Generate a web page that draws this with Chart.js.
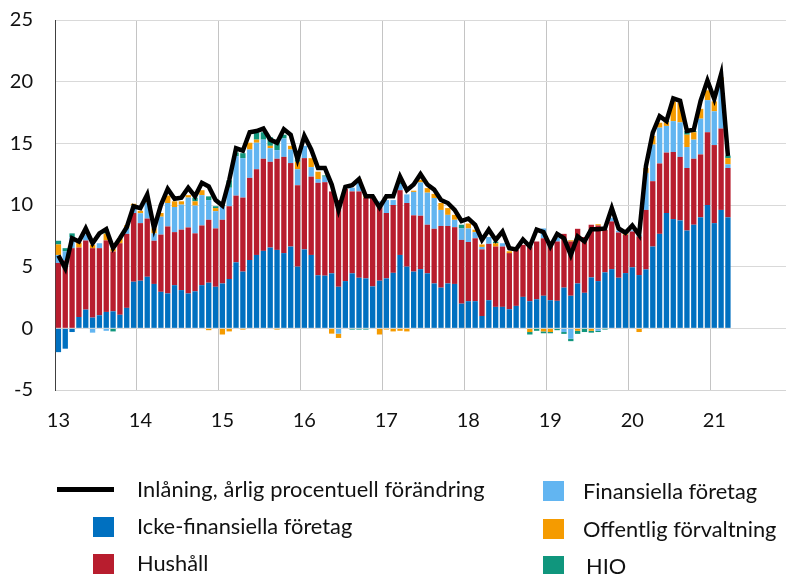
<!DOCTYPE html>
<html>
<head>
<meta charset="utf-8">
<script src="https://cdn.jsdelivr.net/npm/chart.js@4.4.1/dist/chart.umd.min.js"></script>
<style>
  body { margin: 0; background: #fff; }
  #wrap { position: relative; width: 786px; height: 574px; font-family: Lato, "Open Sans", sans-serif; color: #111; }
  canvas { position: absolute; left: 0; top: 0; }
  .lg { position: absolute; font-size: 21.8px; line-height: 24px; transform: translateY(-50%); white-space: nowrap; }
  .sq { position: absolute; width: 21px; height: 20px; }
</style>
</head>
<body>
<div id="wrap">
  <canvas id="chart" width="786" height="574"></canvas>

  <div style="position:absolute; left:57px; top:487px; width:57px; height:5px; background:#000;"></div>
  <div class="lg" style="left:137px; top:489px; letter-spacing:0.1px;">Inlåning, årlig procentuell förändring</div>
  <div class="sq" style="left:93px; top:517px; background:#0070C0;"></div>
  <div class="lg" style="left:137px; top:526px;">Icke-finansiella företag</div>
  <div class="sq" style="left:93px; top:554px; background:#B81D2E;"></div>
  <div class="lg" style="left:137px; top:563px;">Hushåll</div>

  <div class="sq" style="left:543px; top:481px; background:#62B5F1;"></div>
  <div class="lg" style="left:583px; top:491px;">Finansiella företag</div>
  <div class="sq" style="left:543px; top:519px; background:#F59B00;"></div>
  <div class="lg" style="left:583px; top:529px;">Offentlig förvaltning</div>
  <div class="sq" style="left:543px; top:556px; background:#10967D;"></div>
  <div class="lg" style="left:586px; top:566px;">HIO</div>
</div>

<script>
// månader jan 2013 - nov 2021 (axeln går lite längre än datan)
const months = [];
for (let y = 2013; y <= 2021; y++) {
    for (let m = 1; m <= 12; m++) {
        if (y === 2021 && m > 11) break;
        months.push(y + '-' + String(m).padStart(2, '0'));
    }
}
const yearTicks = ['13', '14', '15', '16', '17', '18', '19', '20', '21'];

// bidrag, procentenheter
const ickeFinansiella = [
    -1.93, -1.65, -0.3, 0.92, 1.52, 0.87, 1.06, 1.33, 1.38, 1.1, 1.66, 3.78,
    3.86, 4.18, 3.6, 2.96, 2.83, 3.5, 3.1, 2.83, 3.0, 3.5, 3.7, 3.37,
    3.64, 4.0, 5.35, 4.6, 5.54, 5.95, 6.28, 6.55, 6.36, 6.1, 6.63, 5.0,
    6.4, 5.95, 4.3, 4.27, 4.46, 3.37, 3.83, 4.46, 4.1, 4.05, 3.4, 3.86,
    4.05, 4.5, 5.95, 5.0, 4.6, 4.8, 4.46, 3.64, 3.3, 3.64, 3.6, 2.0,
    2.2, 2.2, 1.0, 2.28, 1.74, 1.74, 1.55, 1.82, 2.55, 2.2, 2.36, 2.64,
    2.28, 2.23, 3.3, 2.64, 3.64, 2.88, 4.13, 3.83, 4.54, 4.8, 4.1, 4.48,
    4.95, 4.32, 4.78, 6.63, 7.66, 9.35, 8.86, 8.75, 7.93, 8.4, 9.0, 10.0,
    8.53, 9.6, 9.0
];
const hushall = [
    5.3, 5.5, 6.5, 5.63, 5.6, 5.63, 5.44, 5.8, 4.85, 5.8, 6.0, 5.57,
    4.67, 4.72, 3.5, 4.64, 5.43, 4.3, 4.9, 5.35, 4.7, 4.84, 5.1, 4.73,
    5.16, 5.9, 5.41, 6.0, 6.66, 6.95, 7.47, 6.95, 7.39, 7.8, 6.77, 6.6,
    7.4, 6.35, 7.5, 7.58, 6.64, 7.03, 7.47, 6.64, 7.0, 6.55, 7.3, 6.14,
    5.3, 5.5, 5.25, 5.16, 4.56, 4.33, 3.94, 4.43, 5.0, 4.66, 4.6, 5.17,
    4.8, 5.1, 5.4, 4.57, 4.89, 4.89, 4.55, 4.54, 4.22, 4.43, 4.68, 4.66,
    4.49, 4.81, 4.36, 4.4, 4.43, 4.52, 4.27, 4.51, 3.46, 3.87, 3.67, 3.1,
    2.9, 3.13, 4.82, 5.3, 5.71, 4.9, 5.44, 5.15, 5.07, 5.35, 5.1, 5.9,
    6.33, 6.6, 4.0
];
const finansiella = [
    0.65, 0.75, 0.9, 0, 0.5, -0.35, 0.4, -0.2, 0, 0, 0.5, 0.6,
    0.8, 1.3, 0.6, 1.45, 1.9, 2.04, 2.03, 2.42, 2.25, 2.46, 1.6, 1.4,
    1.1, 1.5, 3.2, 3.2, 2.3, 2.15, 1.55, 1.1, 0.7, 1.5, 1.1, 1.3,
    1.0, 0.77, 0.3, 0.45, 0, -0.43, 0, 0.3, 0.8, 0, 0, 0.3,
    1.05, 0.4, 0.5, 0.7, 1.9, 2.7, 2.6, 2.5, 1.3, 0.9, 0.6, 0.93,
    1.1, 0.5, 0.2, 0.55, 0, 0.27, 0, 0, 0, 0, 0, 0.8,
    0, 0.32, -0.3, -0.84, 0, 0, 0, -0.2, 0, 0.3, 0.15, 0,
    0.1, 0.1, 3.0, 2.97, 2.9, 2.16, 2.5, 2.8, 1.7, 1.55, 2.9, 2.6,
    2.74, 3.5, 0.3
];
const offentlig = [
    0.85, 0, 0, 0.4, 0, 0.27, 0, 0.55, 0.2, 0.4, 0.2, 0.15,
    0.2, 0.2, 0.4, 0.3, 0.6, 0.46, 0.27, 0.2, 0.35, 0.4, -0.15, 0.25,
    -0.5, -0.25, 0, -0.1, 0.55, 0.25, 0, 0.2, -0.1, 0, 0.3, 0.6,
    0, 0.73, 0.6, 0, -0.43, -0.35, 0, 0, 0.2, 0.15, 0, -0.5,
    -0.1, -0.25, -0.2, -0.25, 0.1, 0.22, 0.37, 0.33, 0.56, 0.55, 0.4, 0,
    0.4, 0.2, 0.2, 0, 0.27, 0, 0.15, 0, 0, -0.3, 0, -0.25,
    -0.3, 0, 0, 0.1, -0.2, 0, -0.2, 0.1, 0, 0, 0, 0.1,
    0, -0.3, 0.4, 0.7, 0.4, 0.3, 1.6, 1.6, 1.0, 0.6, 0.8, 0.8,
    0.8, 0.65, 0.5
];
const hio = [
    0.3, 0.25, 0.3, 0, 0, 0, 0, 0.35, -0.25, 0, 0, 0,
    0, 0, 0, 0, 0, 0, 0, 0, 0.3, 0, 0.3, 0.15,
    0.1, 0.6, 0.3, 0.4, 0, 0.6, 0.6, 0.7, 0.85, 0.3, 0, 0.2,
    0, 0, 0, 0.1, 0, 0, 0, -0.1, -0.1, -0.1, 0, 0,
    0, 0, 0.1, 0, 0, 0, 0, 0, 0, 0, 0, 0.3,
    0, 0, 0, 0, 0.13, 0, 0, 0, 0, -0.2, -0.2, -0.15,
    -0.1, -0.15, -0.15, -0.2, -0.25, -0.3, -0.15, -0.1, -0.1, 0, 0, 0,
    0, 0, 0, 0, 0, 0.1, 0, 0, 0.3, 0.1, 0, 0,
    0, 0, 0.2
];
// inlåning, årlig procentuell förändring
const inlaning = [
    5.9, 4.86, 7.3, 7.04, 8.1, 6.9, 7.7, 8.04, 6.5, 7.3, 8.2, 9.9,
    9.75, 10.84, 8.1, 10.0, 11.3, 10.5, 10.6, 11.4, 10.7, 11.8, 11.5, 10.4,
    9.95, 12.0, 14.6, 14.4, 15.9, 16.0, 16.2, 15.3, 15.05, 16.15, 15.7, 13.7,
    15.6, 14.5, 13.0, 13.0, 11.66, 9.6, 11.47, 11.6, 12.1, 10.7, 10.7, 9.8,
    10.7, 10.7, 12.3, 11.2, 11.66, 12.5, 11.66, 11.25, 10.4, 10.16, 9.6, 8.7,
    8.9, 8.4, 7.17, 8.0, 7.17, 7.85, 6.5, 6.4, 7.2, 6.63, 8.0, 7.8,
    6.63, 7.66, 7.3, 5.95, 7.45, 7.04, 8.04, 8.04, 8.1, 9.75, 8.1, 7.75,
    8.34, 7.58, 13.15, 15.87, 17.2, 16.8, 18.64, 18.45, 16.0, 16.1, 18.45, 20.1,
    18.6, 20.6, 13.97
];

const fontFam = 'Lato, "Open Sans", sans-serif';

function barSet(label, data, color) {
    return {
        type: 'bar',
        label: label,
        data: data,
        backgroundColor: color,
        borderWidth: 0,
        barPercentage: 0.78,
        categoryPercentage: 1.0,
        order: 1
    };
}

var ctx = document.getElementById('chart').getContext('2d');
var chart = new Chart(ctx, {
    data: {
        labels: months,
        datasets: [
            {
                type: 'line',
                label: 'Inlåning, årlig procentuell förändring',
                data: inlaning,
                borderColor: '#000',
                borderWidth: 4.5,
                pointRadius: 0,
                tension: 0,
                stack: 'linje',
                order: 0
            },
            barSet('Icke-finansiella företag', ickeFinansiella, '#0070C0'),
            barSet('Hushåll', hushall, '#B81D2E'),
            barSet('Finansiella företag', finansiella, '#62B5F1'),
            barSet('Offentlig förvaltning', offentlig, '#F59B00'),
            barSet('HIO', hio, '#10967D')
        ]
    },
    options: {
        responsive: false,
        animation: false,
        layout: { padding: { top: 20, left: 0, right: 0, bottom: 0 } },
        plugins: {
            legend: { display: false },
            tooltip: { enabled: false }
        },
        scales: {
            x: {
                stacked: true,
                grid: {
                    offset: true,
                    drawTicks: true,
                    tickLength: 19,
                    tickColor: 'rgba(0,0,0,0)',
                    color: (c) => (c.index > 0 && c.index % 12 === 0) ? '#c4c4c4' : 'rgba(0,0,0,0)'
                },
                border: { color: '#d4d4d4' },
                ticks: {
                    autoSkip: false,
                    maxRotation: 0,
                    padding: 0,
                    color: '#111',
                    font: { family: fontFam, size: 20 },
                    callback: (v, i) => (i % 12 === 0) ? yearTicks[i / 12] : ''
                },
                afterFit: (s) => { s.height = 184; }
            },
            y: {
                stacked: true,
                min: -5,
                max: 25,
                grid: { color: '#d9d9d9', drawTicks: true, tickLength: 22, tickColor: 'rgba(0,0,0,0)' },
                border: { color: '#404040' },
                ticks: {
                    stepSize: 5,
                    padding: 0,
                    color: '#111',
                    font: { family: fontFam, size: 20 }
                },
                afterFit: (s) => { s.width = 55; }
            }
        }
    }
});
</script>
</body>
</html>
